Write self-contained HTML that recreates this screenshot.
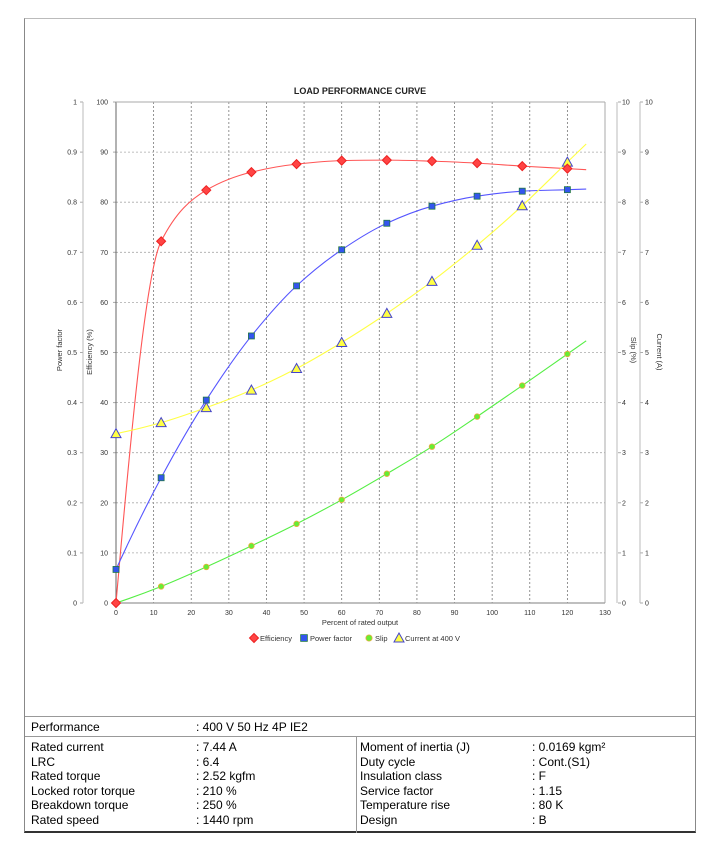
<!DOCTYPE html>
<html><head><meta charset="utf-8"><style>
body{margin:0;background:#fff;font-family:"Liberation Sans",sans-serif;}
#wrap{position:relative;width:721px;height:855px;overflow:hidden;}
#frame{position:absolute;left:24px;top:18px;width:672px;height:815px;border-left:1px solid #888;border-right:1px solid #888;border-top:1px solid #bbb;border-bottom:2px solid #333;box-sizing:border-box;}
table{position:absolute;left:25px;width:670px;border-collapse:collapse;font-size:12px;color:#000;}
td{padding:0 6px;line-height:14.5px;vertical-align:top;}
</style></head><body>
<div id="wrap">
<div id="frame"></div>
<svg id="chart" width="721" height="717" style="position:absolute;left:0;top:0"></svg>
<div style="position:absolute;left:25px;top:716px;width:670px;border-top:1px solid #999"></div>
<table style="top:720px"><tr><td style="width:153px">Performance</td><td>: 400 V 50 Hz 4P IE2</td></tr></table>
<div style="position:absolute;left:25px;top:736px;width:670px;border-top:1px solid #999"></div>
<div style="position:absolute;left:356px;top:737px;height:96px;border-left:1px solid #999"></div>
<table style="top:740px">
<tr><td style="width:153px">Rated current</td><td style="width:152px">: 7.44 A</td><td style="width:160px">Moment of inertia (J)</td><td>: 0.0169 kgm²</td></tr>
<tr><td>LRC</td><td>: 6.4</td><td>Duty cycle</td><td>: Cont.(S1)</td></tr>
<tr><td>Rated torque</td><td>: 2.52 kgfm</td><td>Insulation class</td><td>: F</td></tr>
<tr><td>Locked rotor torque</td><td>: 210 %</td><td>Service factor</td><td>: 1.15</td></tr>
<tr><td>Breakdown torque</td><td>: 250 %</td><td>Temperature rise</td><td>: 80 K</td></tr>
<tr><td>Rated speed</td><td>: 1440 rpm</td><td>Design</td><td>: B</td></tr>
</table>
</div>
<script>
const loads=[0,12,24,36,48,60,72,84,96,108,120];
const efficiency=[0,72.2,82.4,86.0,87.6,88.3,88.4,88.2,87.8,87.2,86.7];
const powerFactor=[0.067,0.25,0.405,0.533,0.633,0.705,0.758,0.792,0.812,0.822,0.825];
const slip=[0,0.33,0.72,1.14,1.58,2.06,2.58,3.12,3.72,4.34,4.97];
const current=[3.38,3.6,3.9,4.25,4.68,5.2,5.78,6.42,7.14,7.93,8.8];
const xTicks=[0,10,20,30,40,50,60,70,80,90,100,110,120,130];
const effTicks=[0,10,20,30,40,50,60,70,80,90,100];
const pfTicks=["0","0.1","0.2","0.3","0.4","0.5","0.6","0.7","0.8","0.9","1"];
const tenTicks=[0,1,2,3,4,5,6,7,8,9,10];
const X0=116,X1=605,Y0=603,Y1=102;
const xs=v=>X0+(v/130)*(X1-X0);
const ys=v=>Y0-(v/100)*(Y0-Y1);
const svg=document.getElementById('chart');
const NS='http://www.w3.org/2000/svg';
function mk(t,a,p){const e=document.createElementNS(NS,t);for(const k in a)e.setAttribute(k,a[k]);(p||svg).appendChild(e);return e;}
function txt(x,y,s,a){const e=mk('text',Object.assign({x:x,y:y,'font-size':7,fill:'#333','font-family':'Liberation Sans, sans-serif'},a||{}));e.textContent=s;return e;}
let t=txt(360,94,'LOAD PERFORMANCE CURVE',{'font-size':9,'font-weight':'bold','text-anchor':'middle',fill:'#222'});


xTicks.forEach(v=>{if(v>0&&v<130){const l=mk('line',{x1:xs(v),x2:xs(v),y1:Y1,y2:Y0,stroke:'#777','stroke-dasharray':'2,2','stroke-width':0.8});}
 const tt=txt(xs(v),615,String(v),{'text-anchor':'middle'});});
effTicks.forEach((v,i)=>{const y=ys(v);
 if(v>0&&v<100){const l=mk('line',{x1:X0,x2:X1,y1:y,y2:y,stroke:'#aaa','stroke-dasharray':'2,2','stroke-width':0.8});}
 let a=txt(108,y+2.5,String(v),{'text-anchor':'end'});
 a=txt(77,y+2.5,pfTicks[i],{'text-anchor':'end'});
 a=txt(622,y+2.5,String(tenTicks[i]));
 a=txt(645,y+2.5,String(tenTicks[i]));
 mk('line',{x1:80,x2:83,y1:y,y2:y,stroke:'#aaa'});mk('line',{x1:113,x2:116,y1:y,y2:y,stroke:'#aaa'});
 mk('line',{x1:618,x2:621,y1:y,y2:y,stroke:'#aaa'});mk('line',{x1:640,x2:643,y1:y,y2:y,stroke:'#aaa'});});
mk('line',{x1:83,x2:83,y1:Y1,y2:Y0,stroke:'#bbb'});
mk('line',{x1:X0,x2:X0,y1:Y1,y2:Y0+1,stroke:'#666'});
mk('line',{x1:X0,x2:X1,y1:Y1,y2:Y1,stroke:'#aaa'});
mk('line',{x1:X1,x2:X1,y1:Y1,y2:Y0,stroke:'#aaa'});
mk('line',{x1:X0,x2:X1,y1:Y0,y2:Y0,stroke:'#999','stroke-width':1.2});
mk('line',{x1:617,x2:617,y1:Y1,y2:Y0,stroke:'#bbb'});
mk('line',{x1:640,x2:640,y1:Y1,y2:Y0,stroke:'#bbb'});
function rot(x,y,s,ang,name){const e=txt(x,y,s,{'text-anchor':'middle','font-size':7.5,transform:`rotate(${ang} ${x} ${y})`});}
rot(62,350,'Power factor',-90,'power-factor-axis-title');
rot(92,352,'Efficiency (%)',-90,'efficiency-axis-title');
rot(631,350,'Slip (%)',90,'slip-axis-title');
rot(657,352,'Current (A)',90,'current-axis-title');
t=txt(360,625,'Percent of rated output',{'text-anchor':'middle','font-size':7.5});
// monotone cubic curves
function curve(vals,scale,color,name){
 const X=loads.slice(),Y=vals.map(v=>v*scale);
 const n=X.length;
 const d=[];for(let i=0;i<n-1;i++)d.push((Y[i+1]-Y[i])/(X[i+1]-X[i]));
 const m=new Array(n);
 const h0=X[1]-X[0],h1=X[2]-X[1];
 m[0]=((2*h0+h1)*d[0]-h0*d[1])/(h0+h1);
 if(Math.sign(m[0])!==Math.sign(d[0]))m[0]=0;
 m[n-1]=d[n-2];
 for(let i=1;i<n-1;i++){if(d[i-1]*d[i]<=0)m[i]=0;else{const w1=2*(X[i+1]-X[i])+(X[i]-X[i-1]),w2=(X[i+1]-X[i])+2*(X[i]-X[i-1]);m[i]=(w1+w2)/(w1/d[i-1]+w2/d[i]);}}
 let p='M'+xs(X[0])+','+ys(Y[0]);
 for(let i=0;i<n-1;i++){const h=X[i+1]-X[i];
  p+=` C${xs(X[i]+h/3)},${ys(Y[i]+m[i]*h/3)} ${xs(X[i+1]-h/3)},${ys(Y[i+1]-m[i+1]*h/3)} ${xs(X[i+1])},${ys(Y[i+1])}`;}
 p+=` L${xs(125)},${ys(Y[n-1]+m[n-1]*5)}`;
 const e=mk('path',{d:p,fill:'none',stroke:color,'stroke-width':1.1});
 
 
}
curve(efficiency,1,'#ff5555','efficiency-curve');
curve(powerFactor,100,'#5555ff','power-factor-curve');
curve(slip,10,'#55ee44','slip-curve');
curve(current,10,'#ffff44','current-curve');
function marker(kind,cx,cy,s){
 if(kind==='d')return mk('polygon',{points:`${cx},${cy-s} ${cx+s},${cy} ${cx},${cy+s} ${cx-s},${cy}`,fill:'#ff4444',stroke:'#ee2222'});
 if(kind==='s')return mk('rect',{x:cx-s*0.75,y:cy-s*0.75,width:s*1.5,height:s*1.5,fill:'#3355ee',stroke:'#227744','stroke-width':0.8});
 if(kind==='c')return mk('circle',{cx:cx,cy:cy,r:s*0.7,fill:'#66ee33',stroke:'#eeaa44','stroke-width':0.8});
 return mk('polygon',{points:`${cx},${cy-s} ${cx+s},${cy+s*0.8} ${cx-s},${cy+s*0.8}`,fill:'#ffff44',stroke:'#4444cc','stroke-width':1});
}
loads.forEach((x,i)=>{
 let m=marker('c',xs(x),ys(slip[i]*10),4);
 m=marker('s',xs(x),ys(powerFactor[i]*100),4);
 m=marker('t',xs(x),ys(current[i]*10),5);
 m=marker('d',xs(x),ys(efficiency[i]),4.5);
});
const legendNames=['Efficiency','Power factor','Slip','Current at 400 V'];
const legendKinds=['d','s','c','t'];
const legendX=[254,304,369,399];
legendNames.forEach((s,i)=>{const g=mk('g',{});
 const m=marker(legendKinds[i],legendX[i],638,legendKinds[i]==='t'?5:4.5);g.appendChild(m);
 const tt=txt(legendX[i]+6,641,s,{'font-size':7.5});g.appendChild(tt);});
</script>
</body></html>
